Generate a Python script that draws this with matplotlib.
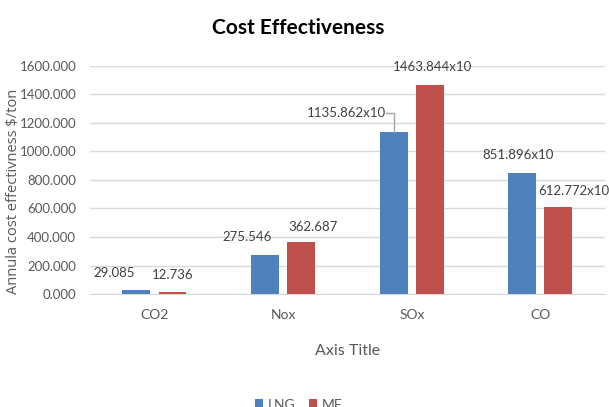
import matplotlib
matplotlib.use('Agg')
import matplotlib.pyplot as plt
import numpy as np

# Données du graphique
categories = ['CO2', 'Nox', 'SOx', 'CO']
lng = [29.085, 275.546, 1135.862, 851.896]
mf = [12.736, 362.687, 1463.844, 612.772]
lng_labels = ['29.085', '275.546', '1135.862x10', '851.896x10']
mf_labels = ['12.736', '362.687', '1463.844x10', '612.772x10']
yticks = [0, 200, 400, 600, 800, 1000, 1200, 1400, 1600]

# Positions des étiquettes (décalage x par rapport à la barre, hauteur y)
lng_lab_pos = [(-0.17, 147), (-0.14, 400), (-0.37, 1270), (-0.03, 975)]
mf_lab_pos = [(0.0, 133), (0.09, 470), (0.02, 1593), (0.12, 725)]

bleu = '#4F81BD'
rouge = '#C0504D'
police = ['Lato', 'DejaVu Sans']

fig = plt.figure(figsize=(6.09, 4.07), dpi=100)
ax = fig.add_axes([0.148, 0.2776, 0.845, 0.5604])

x = np.arange(len(categories))
w = 0.217
off = 0.14
b1 = ax.bar(x - off, lng, w, color=bleu, label='LNG', zorder=3)
b2 = ax.bar(x + off, mf, w, color=rouge, label='MF', zorder=3)

ax.set_xlim(-0.5, 3.5)
ax.set_ylim(0, 1600)
ax.set_yticks(yticks)
ax.set_yticklabels(['%.3f' % v for v in yticks], family=police, fontsize=9.5, color='#595959')
ax.set_xticks(x)
ax.set_xticklabels(categories, family=police, fontsize=10, color='#595959')
ax.tick_params(length=0, pad=10)
ax.tick_params(axis='x', pad=11)
ax.grid(True, axis='y', color='#D9D9D9', linewidth=1, zorder=0)
for s in ['top', 'right', 'left']:
    ax.spines[s].set_visible(False)
ax.spines['bottom'].set_color('#D9D9D9')

# Étiquettes de données
for i in range(len(categories)):
    dx, y = lng_lab_pos[i]
    ax.text(x[i] - off + dx, y, lng_labels[i], ha='center', va='center',
            family=police, fontsize=9.5, color='#404040', zorder=4)
    dx, y = mf_lab_pos[i]
    ax.text(x[i] + off + dx, y, mf_labels[i], ha='center', va='center',
            family=police, fontsize=9.5, color='#404040', zorder=4)

# Ligne de repère pour SOx LNG
xs = x[2] - off
ax.plot([xs - 0.06, xs, xs], [1270, 1270, lng[2]], color='#A6A6A6', linewidth=1, zorder=4)

fig.text(0.49, 0.93, 'Cost Effectiveness', ha='center', va='center',
         family=police, fontsize=15, fontweight='bold', color='black')
ax.set_xlabel('Axis Title', family=police, fontsize=11.5, color='#595959', labelpad=16)
fig.text(0.022, 0.53, 'Annula cost effectivness $/ton', rotation=90, ha='center', va='center',
         family=['Open Sans', 'DejaVu Sans'], fontsize=10.5, color='#595959')

leg = fig.legend(handles=[b1, b2], loc='center', bbox_to_anchor=(0.49, 0.006), ncol=2,
                 frameon=False, handlelength=0.6, handleheight=0.6, columnspacing=1.0,
                 handletextpad=0.3, prop={'family': police, 'size': 10})
for t in leg.get_texts():
    t.set_color('#595959')

fig.savefig('out.png', dpi=100)
